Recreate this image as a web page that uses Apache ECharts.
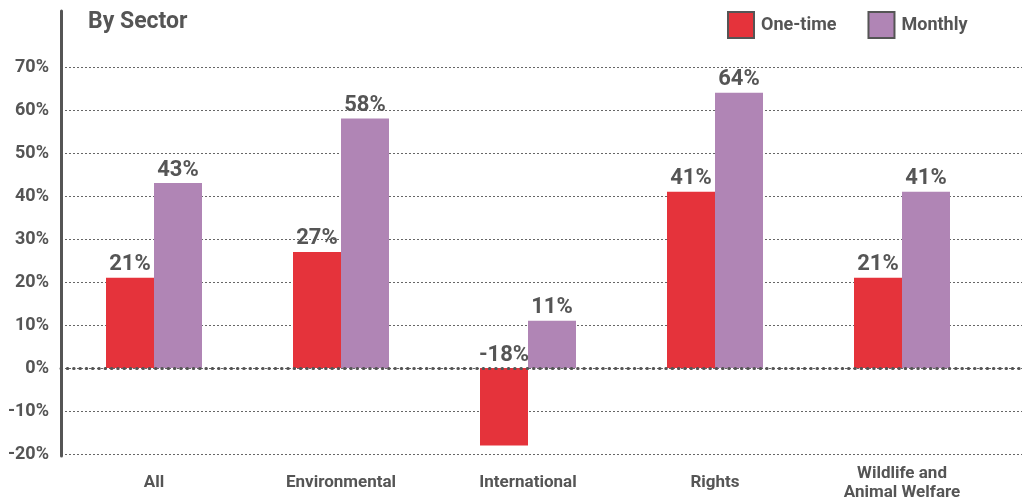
<!DOCTYPE html>
<html>
<head>
<meta charset="utf-8">
<script src="https://cdn.jsdelivr.net/npm/echarts@6/dist/echarts.min.js"></script>
<style>
html,body{margin:0;padding:0;background:#fff;}
#chart{width:1026px;height:503px;}
</style>
</head>
<body>
<div id="chart"></div>
<script>
const categories = ['All', 'Environmental', 'International', 'Rights', 'Wildlife and\nAnimal Welfare'];
const oneTime = [21, 27, -18, 41, 21];
const monthly = [43, 58, 11, 64, 41];
const seriesNames = ['One-time', 'Monthly'];
const titleText = 'By Sector';

const FONT = "Roboto, 'Liberation Sans', sans-serif";
const GREY = '#555555';
const RED = '#e5333b';
const PURPLE = '#b085b5';

const chart = echarts.init(document.getElementById('chart'));
const labelStyle = {
  show: true, position: 'top', distance: 2,
  formatter: '{c}%', fontSize: 22, fontWeight: 'bold', color: GREY, fontFamily: FONT
};
chart.setOption({
  animation: false,
  title: {
    text: titleText, left: 83, top: 6,
    textStyle: { fontSize: 23, fontWeight: 'bold', color: GREY, fontFamily: FONT }
  },
  legend: {
    data: seriesNames, left: 722, top: 6, icon: 'rect',
    itemWidth: 26, itemHeight: 26, itemGap: 31,
    itemStyle: { borderColor: GREY, borderWidth: 2 },
    textStyle: { fontSize: 18, fontWeight: 'bold', color: GREY, fontFamily: FONT, padding: [0, 0, 0, 2] }
  },
  grid: [
    { left: 61, right: 4, top: 67, bottom: 49 },
    { left: 60.5, width: 935, top: 67, bottom: 49 },
    { left: 61, width: 1, top: 11, bottom: 47 }
  ],
  xAxis: [
    {
      gridIndex: 0, type: 'category', data: categories, z: 5,
      axisLine: { onZero: true, lineStyle: { type: [0.5, 5.8], width: 3, color: GREY, cap: 'round' } },
      axisTick: { show: false }, axisLabel: { show: false }, splitLine: { show: false }
    },
    {
      gridIndex: 1, type: 'category', data: categories,
      axisLine: { show: false, onZero: false }, axisTick: { show: false },
      axisLabel: {
        margin: 29, verticalAlign: 'middle', lineHeight: 19,
        fontSize: 17, fontWeight: 'bold', color: GREY, fontFamily: FONT
      }
    },
    { gridIndex: 2, type: 'value', show: false }
  ],
  yAxis: [
    {
      gridIndex: 0, type: 'value', min: -20, max: 70, interval: 10,
      axisLine: { show: false }, axisTick: { show: false },
      axisLabel: { formatter: '{value}%', margin: 12, fontSize: 18, fontWeight: 'bold', color: GREY, fontFamily: FONT },
      splitLine: { lineStyle: { type: [2, 2], color: '#666', width: 1 } }
    },
    { gridIndex: 1, type: 'value', min: -20, max: 70, interval: 10, show: false },
    {
      gridIndex: 2, type: 'value', min: 0, max: 1,
      axisLine: { show: true, onZero: false, lineStyle: { color: GREY, width: 3 } },
      axisTick: { show: false }, axisLabel: { show: false }, splitLine: { show: false }
    }
  ],
  series: [
    {
      name: seriesNames[0], type: 'bar', xAxisIndex: 1, yAxisIndex: 1,
      data: oneTime, barWidth: 48, barGap: '0%',
      itemStyle: { color: RED }, label: labelStyle
    },
    {
      name: seriesNames[1], type: 'bar', xAxisIndex: 1, yAxisIndex: 1,
      data: monthly, barWidth: 48, barGap: '0%',
      itemStyle: { color: PURPLE }, label: labelStyle
    }
  ]
});
</script>
</body>
</html>
